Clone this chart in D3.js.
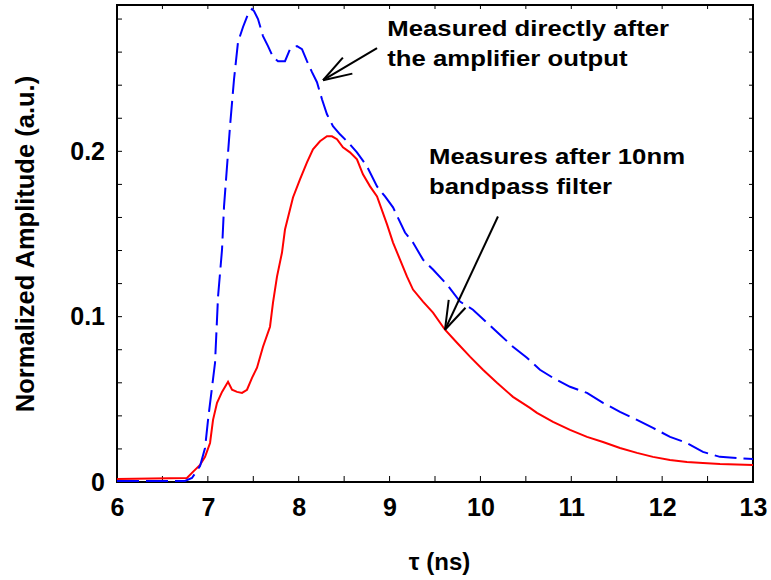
<!DOCTYPE html>
<html>
<head>
<meta charset="utf-8">
<script src="https://cdn.jsdelivr.net/npm/d3@7"></script>
<style>
  body { margin: 0; background: #fff; }
  text { font-family: "Liberation Sans", Arial, sans-serif; font-weight: bold; }
</style>
</head>
<body>
<svg id="chart" width="771" height="580"></svg>
<script>
// blue dashed: measured directly after the amplifier output
var blueTau = [6.0, 6.748, 6.825, 6.914, 6.969, 7.002, 7.079, 7.112, 7.156, 7.178, 7.244, 7.288, 7.332, 7.387, 7.442, 7.486, 7.508, 7.552, 7.607, 7.662, 7.717, 7.772, 7.849, 7.904, 7.981, 8.036, 8.091, 8.146, 8.201, 8.256, 8.311, 8.377, 8.454, 8.542, 8.641, 8.751, 8.862, 8.950, 9.038, 9.170, 9.258, 9.368, 9.478, 9.632, 9.775, 9.918, 10.072, 10.215, 10.358, 10.512, 10.655, 10.799, 10.986, 11.173, 11.349, 11.536, 11.723, 11.899, 12.087, 12.273, 12.449, 12.636, 12.823, 13.0];
var blueAmp = [0.0006, 0.0006, 0.0024, 0.0097, 0.0206, 0.0376, 0.0721, 0.1121, 0.1406, 0.1667, 0.2152, 0.2436, 0.2661, 0.2752, 0.2830, 0.2861, 0.2848, 0.2800, 0.2697, 0.2636, 0.2570, 0.2545, 0.2545, 0.2618, 0.2636, 0.2618, 0.2545, 0.2479, 0.2418, 0.2315, 0.2224, 0.2152, 0.2103, 0.2055, 0.1994, 0.1909, 0.1788, 0.1727, 0.1661, 0.1509, 0.1448, 0.1345, 0.1285, 0.1194, 0.1091, 0.1042, 0.0964, 0.0891, 0.0818, 0.0752, 0.0679, 0.0630, 0.0576, 0.0539, 0.0479, 0.0424, 0.0376, 0.0327, 0.0273, 0.0236, 0.0182, 0.0152, 0.0145, 0.0139];

// red solid: after 10nm bandpass filter
var redTau = [6.0, 6.770, 6.836, 6.914, 6.969, 7.024, 7.057, 7.101, 7.156, 7.222, 7.266, 7.321, 7.376, 7.431, 7.486, 7.541, 7.607, 7.684, 7.717, 7.761, 7.816, 7.849, 7.904, 7.937, 8.014, 8.091, 8.157, 8.234, 8.311, 8.366, 8.421, 8.487, 8.564, 8.641, 8.707, 8.785, 8.862, 8.972, 9.038, 9.115, 9.192, 9.258, 9.368, 9.478, 9.610, 9.742, 9.885, 10.028, 10.182, 10.358, 10.545, 10.622, 10.799, 10.986, 11.173, 11.349, 11.536, 11.723, 11.899, 12.086, 12.273, 12.449, 12.637, 13.0];
var redAmp = [0.0018, 0.0024, 0.0061, 0.0103, 0.0152, 0.0236, 0.0376, 0.0479, 0.0545, 0.0606, 0.0558, 0.0545, 0.0539, 0.0558, 0.0630, 0.0691, 0.0818, 0.0939, 0.1085, 0.1242, 0.1388, 0.1527, 0.1648, 0.1721, 0.1830, 0.1933, 0.2012, 0.2061, 0.2091, 0.2091, 0.2073, 0.2024, 0.1994, 0.1952, 0.1861, 0.1788, 0.1727, 0.1558, 0.1448, 0.1345, 0.1242, 0.1164, 0.1091, 0.1024, 0.0921, 0.0842, 0.0758, 0.0679, 0.0600, 0.0515, 0.0448, 0.0418, 0.0364, 0.0315, 0.0273, 0.0242, 0.0206, 0.0176, 0.0152, 0.0133, 0.0121, 0.0115, 0.0109, 0.0103];

var xTicks = [6, 7, 8, 9, 10, 11, 12, 13];
var yTicks = [0, 0.1, 0.2];

var notes = [
  { lines: ["Measured directly after", "the amplifier output"], tau: 8.975, amp: 0.2696, from: [8.862, 0.2624], to: [8.268, 0.2430] },
  { lines: ["Measures after 10nm", "bandpass filter"], tau: 9.434, amp: 0.1921, from: [10.193, 0.1606], to: [9.610, 0.0921] }
];

var margin = {top: 5, right: 18, bottom: 98, left: 117};
var width = 771 - margin.left - margin.right;
var height = 580 - margin.top - margin.bottom;

var svg = d3.select("#chart").append("g")
    .attr("transform", "translate(" + margin.left + "," + margin.top + ")");

var x = d3.scaleLinear().domain([6, 13]).range([0, width]);
var y = d3.scaleLinear().domain([0, 0.2885]).range([height, 0]);

// minor ticks every 0.5 ns / 0.02
var xMinor = d3.range(6, 13.01, 0.5);
var yMinor = d3.range(0, 0.2885, 0.02);

function tickMarks(g, vals, scale, horizontal, pos, dir, len) {
    g.selectAll(null).data(vals).enter().append("line")
        .attr("x1", function(d){ return horizontal ? scale(d) : pos; })
        .attr("x2", function(d){ return horizontal ? scale(d) : pos + dir * len; })
        .attr("y1", function(d){ return horizontal ? pos : scale(d); })
        .attr("y2", function(d){ return horizontal ? pos + dir * len : scale(d); })
        .attr("stroke", "#000").attr("stroke-width", 1);
}

var ticksG = svg.append("g");
tickMarks(ticksG, xMinor, x, true, height, -1, 6);
tickMarks(ticksG, xMinor, x, true, 0, 1, 4);
tickMarks(ticksG, yMinor, y, false, 0, 1, 5);
tickMarks(ticksG, yMinor, y, false, width, -1, 4);

// frame
svg.append("rect")
    .attr("x", 0).attr("y", 0).attr("width", width).attr("height", height)
    .attr("fill", "none").attr("stroke", "#000").attr("stroke-width", 2);

// axes (labels only)
var xAxis = d3.axisBottom(x).tickValues(xTicks).tickSize(0).tickPadding(16).tickFormat(d3.format("d"));
svg.append("g").attr("transform", "translate(0," + height + ")").call(xAxis)
    .call(function(g){ g.select(".domain").remove(); })
    .selectAll("text").style("font-size", "25px").attr("fill", "#000");

var yAxis = d3.axisLeft(y).tickValues(yTicks).tickSize(0).tickPadding(12).tickFormat(function(d){ return d === 0 ? "0" : d3.format(".1f")(d); });
svg.append("g").call(yAxis)
    .call(function(g){ g.select(".domain").remove(); })
    .selectAll("text").style("font-size", "25px").attr("fill", "#000");

// axis titles
svg.append("text")
    .attr("x", x(9.55)).attr("y", height + 88)
    .attr("text-anchor", "middle").style("font-size", "24px")
    .text("τ (ns)");

svg.append("text")
    .attr("transform", "translate(" + (-83) + "," + 239 + ") rotate(-90)")
    .attr("text-anchor", "middle").style("font-size", "25.5px")
    .text("Normalized Amplitude (a.u.)");

// curves
var line = d3.line()
    .x(function(d){ return x(d[0]); })
    .y(function(d){ return y(d[1]); });

svg.append("path")
    .datum(d3.zip(redTau, redAmp))
    .attr("d", line)
    .attr("fill", "none").attr("stroke", "#ff0000").attr("stroke-width", 2);

svg.append("path")
    .datum(d3.zip(blueTau, blueAmp))
    .attr("d", line)
    .attr("fill", "none").attr("stroke", "#0000ff").attr("stroke-width", 2)
    .attr("stroke-dasharray", "22,7");

// annotations + arrows
notes.forEach(function(n){
    var t = svg.append("text")
        .attr("transform", "translate(" + x(n.tau) + "," + y(n.amp) + ") scale(1.17,1)")
        .style("font-size", "22px");
    n.lines.forEach(function(s, i){
        t.append("tspan").attr("x", 0).attr("dy", i === 0 ? 0 : 30).text(s);
    });

    var x1 = x(n.from[0]), y1 = y(n.from[1]);
    var x2 = x(n.to[0]), y2 = y(n.to[1]);
    svg.append("line")
        .attr("x1", x1).attr("y1", y1).attr("x2", x2).attr("y2", y2)
        .attr("stroke", "#000").attr("stroke-width", 2);

    // open arrow head
    var ang = Math.atan2(y1 - y2, x1 - x2);
    var len = 30, spread = 18 * Math.PI / 180;
    [ang - spread, ang + spread].forEach(function(a){
        svg.append("line")
            .attr("x1", x2).attr("y1", y2)
            .attr("x2", x2 + len * Math.cos(a)).attr("y2", y2 + len * Math.sin(a))
            .attr("stroke", "#000").attr("stroke-width", 2);
    });
});
</script>
</body>
</html>
